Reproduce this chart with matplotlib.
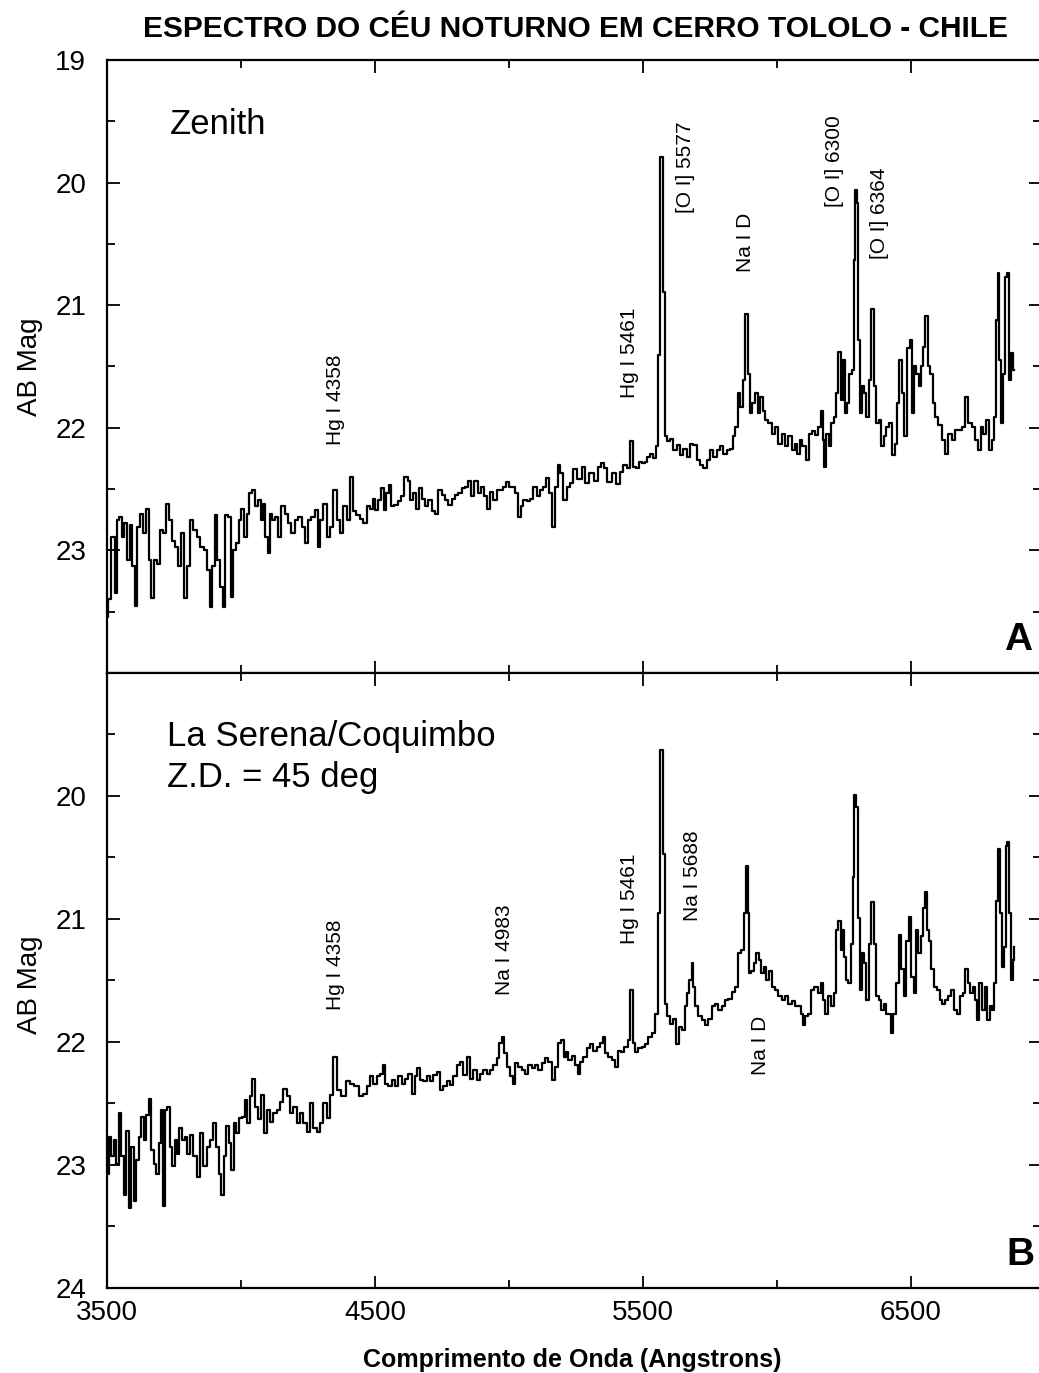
import matplotlib
matplotlib.use("Agg")
import matplotlib.pyplot as plt
from matplotlib.ticker import MultipleLocator, FixedLocator, NullFormatter

plt.rcParams['font.family'] = ['Liberation Sans', 'DejaVu Sans']

# ---------------- data ----------------
top_wl = [3501, 3508, 3524, 3534, 3542, 3551, 3561, 3567, 3580, 3592, 3598, 3608, 3617, 3629, 3642, 3652,
          3661, 3669, 3679, 3692, 3704, 3717, 3725, 3735, 3748, 3760, 3773, 3782, 3795, 3804, 3816, 3828,
          3841, 3853, 3870, 3878, 3888, 3897, 3907, 3916, 3928, 3934, 3944, 3957, 3965, 3974, 3986, 3996,
          4006, 4016, 4027, 4036, 4049, 4059, 4069, 4077, 4086, 4096, 4103, 4111, 4121, 4133, 4146, 4156,
          4171, 4183, 4193, 4208, 4220, 4233, 4245, 4255, 4270, 4282, 4292, 4301, 4314, 4326, 4338, 4351,
          4363, 4376, 4388, 4400, 4413, 4422, 4438, 4450, 4463, 4475, 4487, 4497, 4506, 4519, 4527, 4537,
          4546, 4556, 4566, 4578, 4591, 4603, 4616, 4627, 4637, 4649, 4658, 4668, 4680, 4693, 4705, 4718,
          4730, 4742, 4755, 4767, 4780, 4792, 4805, 4817, 4830, 4842, 4854, 4864, 4877, 4889, 4902, 4914,
          4923, 4935, 4948, 4960, 4973, 4985, 4994, 5006, 5019, 5029, 5039, 5047, 5060, 5072, 5085, 5097,
          5109, 5122, 5134, 5143, 5153, 5165, 5178, 5188, 5196, 5209, 5221, 5234, 5246, 5265, 5277, 5290,
          5308, 5327, 5339, 5349, 5358, 5377, 5389, 5408, 5420, 5433, 5445, 5457, 5466, 5479, 5489, 5501,
          5511, 5520, 5532, 5544, 5553, 5561, 5569, 5578, 5586, 5594, 5607, 5619, 5632, 5644, 5656, 5669,
          5681, 5694, 5706, 5719, 5731, 5744, 5756, 5768, 5781, 5793, 5806, 5818, 5831, 5839, 5849, 5859,
          5868, 5877, 5887, 5895, 5901, 5911, 5924, 5933, 5943, 5951, 5961, 5974, 5986, 5998, 6011, 6023,
          6036, 6048, 6061, 6071, 6080, 6088, 6101, 6113, 6123, 6136, 6148, 6160, 6167, 6173, 6179, 6188,
          6198, 6208, 6216, 6225, 6233, 6241, 6250, 6257, 6266, 6275, 6282, 6290, 6295, 6301, 6306, 6312,
          6320, 6328, 6337, 6347, 6357, 6366, 6374, 6384, 6394, 6403, 6412, 6422, 6434, 6444, 6453, 6461,
          6471, 6480, 6490, 6499, 6506, 6515, 6524, 6534, 6541, 6550, 6558, 6568, 6577, 6586, 6596, 6608,
          6621, 6633, 6646, 6658, 6670, 6683, 6695, 6708, 6720, 6733, 6745, 6755, 6764, 6776, 6786, 6795,
          6807, 6813, 6820, 6826, 6832, 6840, 6847, 6854, 6862, 6869, 6877, 6884]
top_mag = [23.54, 23.40, 22.89, 23.35, 22.75, 22.73, 22.89, 22.78, 23.08, 22.79, 23.13, 23.45, 22.81, 22.70, 22.86, 22.66,
           23.08, 23.39, 23.08, 23.11, 22.83, 22.86, 22.62, 22.75, 22.92, 22.97, 23.13, 22.86, 23.39, 23.13, 22.75, 22.83,
           22.89, 22.97, 23.00, 23.16, 23.46, 23.13, 22.71, 23.08, 23.30, 23.46, 22.71, 22.73, 23.38, 23.00, 22.94, 22.75,
           22.66, 22.89, 22.70, 22.53, 22.51, 22.64, 22.59, 22.75, 22.62, 22.89, 23.02, 22.70, 22.75, 22.73, 22.89, 22.64,
           22.70, 22.78, 22.86, 22.75, 22.73, 22.81, 22.94, 22.75, 22.73, 22.67, 22.97, 22.75, 22.62, 22.89, 22.81, 22.51,
           22.75, 22.86, 22.64, 22.75, 22.40, 22.68, 22.71, 22.74, 22.78, 22.64, 22.66, 22.58, 22.67, 22.59, 22.49, 22.67,
           22.53, 22.47, 22.64, 22.63, 22.60, 22.56, 22.40, 22.43, 22.59, 22.53, 22.66, 22.49, 22.58, 22.64, 22.59, 22.68,
           22.70, 22.51, 22.55, 22.59, 22.63, 22.58, 22.55, 22.53, 22.49, 22.48, 22.43, 22.56, 22.43, 22.53, 22.48, 22.56,
           22.66, 22.52, 22.59, 22.51, 22.51, 22.48, 22.44, 22.48, 22.48, 22.53, 22.73, 22.64, 22.59, 22.60, 22.58, 22.48,
           22.56, 22.51, 22.48, 22.41, 22.53, 22.81, 22.48, 22.30, 22.37, 22.59, 22.48, 22.45, 22.34, 22.42, 22.32, 22.45,
           22.37, 22.43, 22.32, 22.29, 22.33, 22.44, 22.37, 22.46, 22.36, 22.30, 22.33, 22.11, 22.32, 22.33, 22.28, 22.29,
           22.28, 22.24, 22.21, 22.25, 22.15, 21.41, 19.79, 20.89, 22.07, 22.11, 22.09, 22.18, 22.14, 22.22, 22.17, 22.24,
           22.13, 22.14, 22.26, 22.30, 22.33, 22.26, 22.18, 22.24, 22.18, 22.15, 22.21, 22.18, 22.17, 22.07, 21.99, 21.72,
           21.83, 21.61, 21.07, 21.56, 21.88, 21.80, 21.72, 21.88, 21.75, 21.86, 21.94, 21.96, 22.05, 21.99, 22.13, 22.05,
           22.15, 22.07, 22.18, 22.13, 22.21, 22.10, 22.15, 22.26, 22.05, 22.03, 22.06, 21.99, 21.86, 22.10, 22.32, 22.05,
           22.15, 21.96, 21.91, 21.72, 21.38, 21.77, 21.45, 21.88, 21.80, 21.56, 21.53, 20.63, 20.06, 20.17, 21.28, 21.88,
           21.66, 21.72, 21.91, 21.61, 21.03, 21.66, 21.96, 21.94, 22.15, 22.07, 21.99, 21.96, 22.22, 22.13, 21.80, 21.45,
           21.72, 22.07, 21.35, 21.28, 21.88, 21.50, 21.56, 21.66, 21.50, 21.34, 21.09, 21.50, 21.56, 21.80, 21.91, 21.98,
           22.10, 22.21, 22.05, 22.10, 22.02, 22.02, 21.99, 21.75, 21.96, 21.99, 22.10, 22.18, 21.99, 22.05, 21.94, 22.18,
           22.10, 21.91, 21.12, 20.74, 21.45, 21.96, 21.56, 20.77, 20.74, 21.61, 21.39, 21.53]

bot_wl = [3501, 3511, 3521, 3530, 3539, 3549, 3559, 3567, 3576, 3586, 3596, 3605, 3613, 3623, 3633, 3642,
          3651, 3661, 3671, 3679, 3688, 3698, 3705, 3713, 3720, 3729, 3738, 3748, 3758, 3766, 3775, 3785,
          3795, 3804, 3816, 3828, 3841, 3853, 3866, 3878, 3891, 3903, 3912, 3922, 3932, 3940, 3949, 3959,
          3969, 3978, 3986, 3996, 4009, 4019, 4029, 4036, 4046, 4056, 4069, 4078, 4090, 4102, 4115, 4127,
          4139, 4152, 4164, 4177, 4189, 4202, 4214, 4227, 4239, 4251, 4264, 4276, 4289, 4301, 4314, 4326,
          4338, 4351, 4367, 4382, 4400, 4413, 4432, 4450, 4463, 4475, 4487, 4500, 4512, 4525, 4533, 4543,
          4556, 4568, 4581, 4593, 4606, 4618, 4631, 4643, 4653, 4662, 4674, 4686, 4699, 4711, 4724, 4736,
          4749, 4761, 4774, 4786, 4798, 4811, 4823, 4836, 4848, 4861, 4873, 4885, 4898, 4910, 4923, 4935,
          4948, 4960, 4969, 4976, 4985, 4997, 5010, 5019, 5029, 5041, 5053, 5066, 5078, 5091, 5103, 5116,
          5128, 5140, 5153, 5165, 5178, 5190, 5200, 5209, 5215, 5227, 5240, 5252, 5262, 5271, 5283, 5296,
          5308, 5321, 5333, 5345, 5354, 5364, 5377, 5389, 5401, 5411, 5424, 5436, 5449, 5457, 5466, 5476,
          5489, 5501, 5513, 5526, 5538, 5551, 5559, 5569, 5578, 5586, 5594, 5607, 5619, 5628, 5638, 5650,
          5660, 5669, 5678, 5684, 5691, 5700, 5712, 5725, 5737, 5750, 5762, 5775, 5787, 5799, 5812, 5824,
          5837, 5849, 5862, 5872, 5880, 5887, 5893, 5899, 5909, 5918, 5926, 5936, 5945, 5955, 5964, 5974,
          5986, 5998, 6011, 6023, 6036, 6048, 6061, 6073, 6086, 6096, 6101, 6111, 6123, 6133, 6146, 6158,
          6167, 6175, 6185, 6195, 6208, 6216, 6225, 6233, 6241, 6247, 6254, 6262, 6270, 6279, 6285, 6292,
          6300, 6306, 6312, 6320, 6328, 6337, 6347, 6357, 6366, 6374, 6384, 6394, 6403, 6412, 6422, 6429,
          6440, 6449, 6459, 6469, 6478, 6486, 6496, 6505, 6515, 6524, 6531, 6540, 6549, 6556, 6565, 6571,
          6581, 6590, 6602, 6611, 6621, 6633, 6646, 6655, 6664, 6677, 6689, 6698, 6708, 6718, 6726, 6735,
          6745, 6751, 6760, 6770, 6780, 6789, 6797, 6805, 6813, 6820, 6826, 6835, 6842, 6851, 6857, 6863,
          6869, 6876, 6882, 6886]
bot_mag = [23.07, 22.77, 22.93, 22.80, 22.99, 22.58, 22.93, 23.24, 22.72, 23.35, 22.85, 23.29, 22.96, 22.77, 22.61, 22.80,
           22.59, 22.46, 22.88, 22.99, 23.07, 22.82, 22.55, 23.33, 22.55, 22.53, 22.85, 23.01, 22.80, 22.91, 22.70, 22.80,
           22.77, 22.91, 22.76, 22.93, 23.10, 22.74, 23.01, 22.85, 22.80, 22.66, 22.85, 23.07, 23.24, 22.93, 22.68, 22.82,
           23.04, 22.66, 22.74, 22.62, 22.61, 22.47, 22.66, 22.44, 22.30, 22.53, 22.63, 22.43, 22.74, 22.55, 22.65, 22.58,
           22.55, 22.49, 22.38, 22.44, 22.58, 22.53, 22.66, 22.58, 22.66, 22.73, 22.50, 22.70, 22.73, 22.66, 22.50, 22.62,
           22.43, 22.12, 22.39, 22.44, 22.32, 22.34, 22.36, 22.44, 22.42, 22.36, 22.28, 22.34, 22.28, 22.26, 22.19, 22.34,
           22.36, 22.31, 22.36, 22.28, 22.34, 22.30, 22.26, 22.42, 22.28, 22.21, 22.31, 22.32, 22.28, 22.32, 22.27, 22.24,
           22.39, 22.36, 22.32, 22.35, 22.28, 22.19, 22.16, 22.27, 22.12, 22.30, 22.23, 22.31, 22.26, 22.23, 22.26, 22.23,
           22.19, 22.13, 22.01, 21.96, 22.09, 22.20, 22.28, 22.34, 22.17, 22.20, 22.23, 22.26, 22.19, 22.21, 22.19, 22.23,
           22.17, 22.13, 22.16, 22.31, 22.20, 22.01, 21.98, 22.12, 22.08, 22.15, 22.11, 22.19, 22.26, 22.16, 22.12, 22.05,
           22.02, 22.07, 22.04, 22.01, 21.96, 22.09, 22.12, 22.15, 22.20, 22.07, 22.08, 22.04, 21.98, 21.58, 22.01, 22.08,
           22.05, 22.04, 22.02, 21.96, 21.93, 21.77, 20.95, 19.63, 20.47, 21.69, 21.79, 21.85, 21.81, 22.02, 21.88, 21.90,
           21.71, 21.60, 21.50, 21.36, 21.55, 21.71, 21.79, 21.82, 21.86, 21.81, 21.71, 21.69, 21.74, 21.71, 21.66, 21.65,
           21.59, 21.55, 21.28, 21.25, 20.95, 20.57, 20.95, 21.44, 21.42, 21.36, 21.28, 21.33, 21.44, 21.39, 21.50, 21.42,
           21.55, 21.58, 21.63, 21.66, 21.63, 21.69, 21.67, 21.71, 21.71, 21.77, 21.86, 21.79, 21.77, 21.58, 21.55, 21.60,
           21.52, 21.66, 21.77, 21.63, 21.71, 21.60, 21.09, 21.02, 21.25, 21.09, 21.31, 21.50, 21.52, 21.20, 20.66, 19.99,
           20.09, 20.99, 21.58, 21.28, 21.36, 21.66, 21.20, 20.86, 21.20, 21.63, 21.66, 21.74, 21.69, 21.77, 21.77, 21.93,
           21.77, 21.52, 21.13, 21.41, 21.63, 21.18, 20.98, 21.47, 21.60, 21.09, 21.28, 21.14, 20.91, 20.78, 21.09, 21.18,
           21.41, 21.55, 21.58, 21.66, 21.69, 21.66, 21.63, 21.58, 21.74, 21.77, 21.63, 21.60, 21.41, 21.52, 21.60, 21.55,
           21.66, 21.82, 21.52, 21.74, 21.55, 21.82, 21.71, 21.74, 21.52, 20.85, 20.43, 20.95, 21.39, 21.23, 20.41, 20.37,
           20.95, 21.50, 21.33, 21.23]

top_labels = ["Hg I 4358", "Hg I 5461", "[O I] 5577", "Na I D", "[O I] 6300", "[O I] 6364"]
top_label_wl = [4351, 5451, 5660, 5881, 6216, 6384]
top_label_mag = [22.14, 21.76, 20.25, 20.73, 20.20, 20.62]

bot_labels = ["Hg I 4358", "Na I 4983", "Hg I 5461", "Na I 5688", "Na I D"]
bot_label_wl = [4351, 4985, 5451, 5683, 5937]
bot_label_mag = [21.74, 21.62, 21.20, 21.02, 22.27]

x_ticks = [3500, 4500, 5500, 6500]
y_ticks_top = [19, 20, 21, 22, 23]
y_ticks_bot = [20, 21, 22, 23, 24]

# ---------------- figure ----------------
W, H = 1039, 1373
fig = plt.figure(figsize=(W / 100, H / 100), dpi=100)
left = 107 / W
width = 934 / W
ax1 = fig.add_axes([left, 700 / H, width, 613 / H])
ax2 = fig.add_axes([left, 85 / H, width, 615 / H])

xmax = 3500 + 934 / 0.268

for ax, wl, mag, yt in [(ax1, top_wl, top_mag, y_ticks_top), (ax2, bot_wl, bot_mag, y_ticks_bot)]:
    ax.plot(wl, mag, color='black', lw=1.6, drawstyle='steps-mid')
    ax.set_xlim(3500, xmax)
    ax.set_ylim(24, 19)
    ax.xaxis.set_major_locator(FixedLocator(x_ticks))
    ax.xaxis.set_minor_locator(FixedLocator([4000, 5000, 6000]))
    ax.yaxis.set_major_locator(FixedLocator(yt))
    ax.yaxis.set_minor_locator(MultipleLocator(0.5))
    ax.tick_params(which='both', direction='in', top=True, right=True, width=1.3, colors='black')
    ax.tick_params(which='major', length=9)
    ax.tick_params(which='minor', length=6)
    ax.tick_params(axis='y', which='major', labelsize=20, pad=15)
    ax.tick_params(axis='x', which='major', labelsize=20, pad=9)
    for sp in ax.spines.values():
        sp.set_linewidth(1.6)
    ax.set_facecolor('white')

ax1.xaxis.set_major_formatter(NullFormatter())

for s, x, y in zip(top_labels, top_label_wl, top_label_mag):
    ax1.text(x, y, s, rotation=90, ha='center', va='bottom', fontsize=15)
for s, x, y in zip(bot_labels, bot_label_wl, bot_label_mag):
    ax2.text(x, y, s, rotation=90, ha='center', va='bottom', fontsize=15)

ax1.text(3735, 19.53, "Zenith", fontsize=25, ha='left', va='center')
ax2.text(3724, 19.52, "La Serena/Coquimbo", fontsize=25, ha='left', va='center')
ax2.text(3724, 19.85, "Z.D. = 45 deg", fontsize=25, ha='left', va='center')
ax1.text(6899, 23.73, "A", fontsize=28, fontweight='bold', ha='center', va='center')
ax2.text(6907, 23.73, "B", fontsize=28, fontweight='bold', ha='center', va='center')

fig.text(575 / W, 1 - 29 / H, "ESPECTRO DO CÉU NOTURNO EM CERRO TOLOLO - CHILE",
         fontsize=21.5, fontweight='bold', ha='center', va='center')
fig.text(572 / W, 1 - 1360 / H, "Comprimento de Onda (Angstrons)",
         fontsize=18, fontweight='bold', ha='center', va='center')
fig.text(30 / W, 1 - 367 / H, "AB Mag", fontsize=20, rotation=90, ha='center', va='center')
fig.text(30 / W, 1 - 985 / H, "AB Mag", fontsize=20, rotation=90, ha='center', va='center')

fig.savefig("out.png", dpi=100, facecolor='white')
